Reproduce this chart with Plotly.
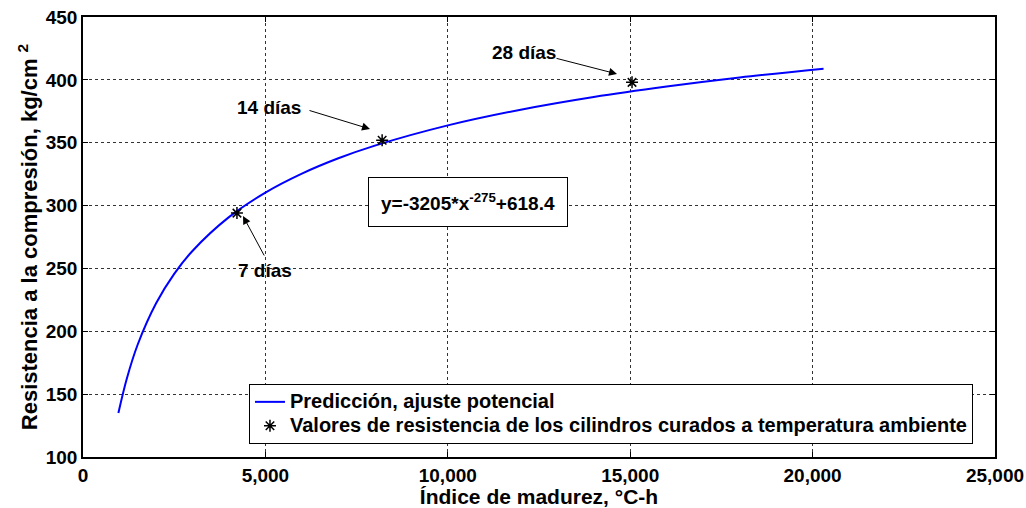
import plotly.graph_objects as go

# Fitted curve
curve_x = [970, 1200, 1500, 2000, 2500, 3000, 4000, 5000, 6000, 7000, 8000,
           10000, 12000, 14000, 16000, 18000, 20300]
curve_y = [135, 162.3, 189.5, 222.1, 245.7, 263.9, 290.8, 310.3, 325.4, 337.6,
           347.7, 363.8, 376.3, 386.4, 394.7, 401.9, 408.9]

# Measured strengths
meas_x = [4220, 8200, 15050]
meas_y = [294, 352, 398]
meas_labels = ["7 días", "14 días", "28 días"]

x_ticks = [0, 5000, 10000, 15000, 20000, 25000]
x_ticklabels = ["0", "5,000", "10,000", "15,000", "20,000", "25,000"]
y_ticks = [100, 150, 200, 250, 300, 350, 400, 450]
y_ticklabels = ["100", "150", "200", "250", "300", "350", "400", "450"]

FONT = "Arial, Liberation Sans, sans-serif"

def b(t):
    return "<b>" + t + "</b>"

def leg(t):
    return "<span style='font-size:20px'><b>" + t + "</b></span>"

fig = go.Figure()
fig.add_trace(go.Scatter(
    x=curve_x, y=curve_y, mode="lines", line=dict(color="#0000ff", width=2, shape="spline"),
    name=leg("Predicción, ajuste potencial")))
fig.add_trace(go.Scatter(
    x=meas_x, y=meas_y, mode="markers",
    marker=dict(symbol="asterisk-open", size=10, color="black", line=dict(color="black", width=1.5)),
    name=leg("Valores de resistencia de los cilindros curados a temperatura ambiente")))

axis_common = dict(
    showgrid=True, gridcolor="#333333", griddash="dot", gridwidth=1,
    showline=True, linecolor="black", linewidth=1.5, mirror="ticks",
    ticks="inside", ticklen=5, tickcolor="black", zeroline=False, automargin=False,
    tickfont=dict(family=FONT, size=19, color="black"),
)
fig.update_xaxes(range=[0, 25000], tickvals=x_ticks, ticktext=[b(t) for t in x_ticklabels],
                 title=dict(text=b("Índice de madurez, °C-h"), standoff=0,
                            font=dict(family=FONT, size=21, color="black")),
                 **axis_common)
fig.update_yaxes(range=[100, 450], tickvals=y_ticks, ticktext=[b(t) for t in y_ticklabels],
                 title=dict(text=b("Resistencia a la compresión, kg/cm <sup>2</sup>"), standoff=2,
                            font=dict(family=FONT, size=22, color="black")),
                 **axis_common)

# arrows (tip -> tail) in data units
arrows = [
    (4386, 291.7, 4989, 259.1),
    (7867, 360.9, 6168, 376.0),
    (14638, 404.7, 12939, 417.4),
]
for tx, ty, sx, sy in arrows:
    fig.add_annotation(x=tx, y=ty, ax=sx, ay=sy, axref="x", ayref="y", text="",
                       showarrow=True, arrowhead=2, arrowsize=1.6, arrowwidth=1, arrowcolor="black")

label_pos = [(4989, 248.0), (5100, 378.4), (12100, 421.4)]
for (lx, ly), t in zip(label_pos, meas_labels):
    fig.add_annotation(x=lx, y=ly, text=b(t), showarrow=False,
                       font=dict(family=FONT, size=19, color="black"))

fig.add_annotation(x=10554, y=302.8, text=b("y=-3205*x<sup>-275</sup>+618.4"), showarrow=False,
                   bordercolor="black", borderwidth=1, borderpad=12, bgcolor="white",
                   font=dict(family=FONT, size=19, color="black"))

fig.update_layout(
    width=1026, height=508,
    margin=dict(l=83, r=31, t=17, b=51),
    paper_bgcolor="white", plot_bgcolor="white",
    showlegend=True,
    legend=dict(x=0.182, y=0.166, xanchor="left", yanchor="top",
                bgcolor="white", bordercolor="black", borderwidth=1,
                font=dict(family=FONT, size=16, color="black"),
                tracegroupgap=0, itemwidth=30),
)

fig.write_html("out.html")
